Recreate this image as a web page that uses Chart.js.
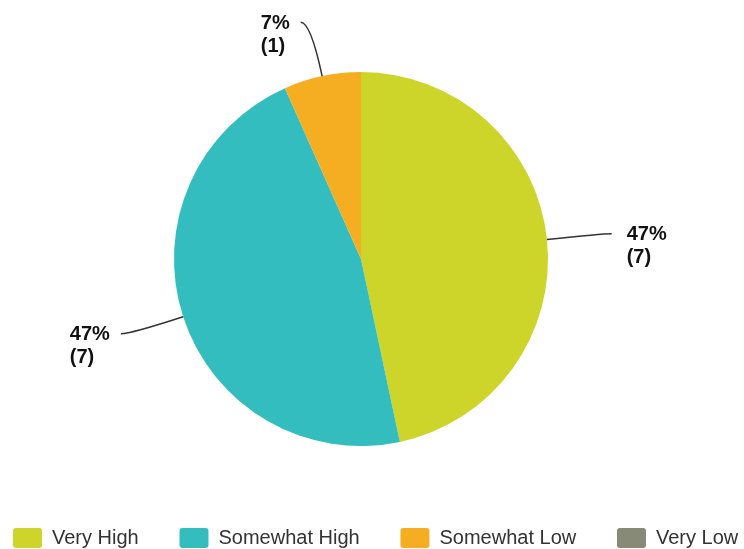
<!DOCTYPE html>
<html>
<head>
<meta charset="utf-8">
<script src="https://cdn.jsdelivr.net/npm/chart.js@4.4.1/dist/chart.umd.min.js"></script>
<style>
    html, body { margin: 0; padding: 0; background: #fff; }
    canvas { display: block; }
</style>
</head>
<body>
<canvas id="pieChart" width="744" height="549"></canvas>
<script>
/* DATA */
const categories = ["Very High", "Somewhat High", "Somewhat Low", "Very Low"];
const counts = [7, 7, 1, 0];
const percentLabels = ["47%", "47%", "7%", "0%"];
const colors = ["#CDD52A", "#33BDBE", "#F5AE21", "#878A77"];

const FONT = "'Liberation Sans', Arial, sans-serif";

/* LEADER LINES + LABELS */
const calloutPlugin = {
    id: "callouts",
    afterDatasetsDraw(chart) {
        const ctx = chart.ctx;
        chart.getDatasetMeta(0).data.forEach((arc, i) => {
            if (!counts[i]) return;
            const { x, y, startAngle, endAngle, outerRadius } =
                arc.getProps(["x", "y", "startAngle", "endAngle", "outerRadius"], true);
            const mid = (startAngle + endAngle) / 2;
            const cos = Math.cos(mid), sin = Math.sin(mid);
            const right = cos >= 0;
            const x0 = x + outerRadius * cos, y0 = y + outerRadius * sin;
            const x1 = x + (outerRadius + 55) * cos, y1 = y + (outerRadius + 55) * sin;
            const x2 = x1 + (right ? 10 : -10);

            ctx.save();
            ctx.strokeStyle = "#333";
            ctx.lineWidth = 1.5;
            ctx.beginPath();
            ctx.moveTo(x0, y0);
            ctx.quadraticCurveTo(x1, y1, x2, y1);
            ctx.stroke();

            // two-line label, left aligned as a block
            const lines = [percentLabels[i], "(" + counts[i] + ")"];
            ctx.fillStyle = "#111";
            ctx.font = "bold 20px " + FONT;
            ctx.textAlign = "left";
            ctx.textBaseline = "middle";
            const w = Math.max(...lines.map(t => ctx.measureText(t).width));
            const tx = right ? x2 + 15 : x2 - 11 - w;
            lines.forEach((t, k) => ctx.fillText(t, tx, y1 + 1 + k * 23));
            ctx.restore();
        });
    }
};

/* CHART */
new Chart(document.getElementById("pieChart"), {
    type: "pie",
    data: {
        labels: categories,
        datasets: [{
            data: counts,
            backgroundColor: colors,
            borderWidth: 0
        }]
    },
    options: {
        responsive: false,
        animation: false,
        radius: 187,
        layout: { padding: { top: 3, left: 0, right: -18, bottom: -9 } },
        plugins: {
            tooltip: { enabled: false },
            // blank spacer on the right so the pie sits left of centre
            title: {
                display: true,
                position: "right",
                text: "",
                padding: 0,
                font: { size: 40, lineHeight: 1 }
            },
            legend: {
                position: "bottom",
                align: "start",
                labels: {
                    padding: 13,
                    boxWidth: 29,
                    boxHeight: 20,
                    color: "#333",
                    font: { family: FONT, size: 20 },
                    generateLabels(chart) {
                        return categories.map((c, i) => ({
                            text: i < categories.length - 1 ? c + "     " : c,
                            fillStyle: colors[i],
                            strokeStyle: colors[i],
                            lineWidth: 0,
                            borderRadius: 3,
                            fontColor: "#333",
                            hidden: false,
                            index: i
                        }));
                    }
                }
            }
        }
    },
    plugins: [calloutPlugin]
});
</script>
</body>
</html>
